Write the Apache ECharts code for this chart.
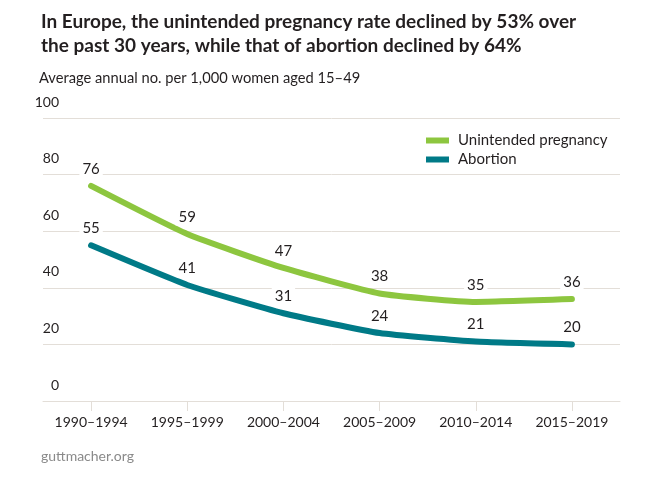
<!DOCTYPE html>
<html><head><meta charset="utf-8">
<script src="https://cdn.jsdelivr.net/npm/echarts@6/dist/echarts.min.js"></script>
<style>html,body{margin:0;padding:0;background:#fff}#c{width:671px;height:499px}</style>
</head><body><div id="c"></div>
<script>
const categories = ['1990–1994','1995–1999','2000–2004','2005–2009','2010–2014','2015–2019'];
const unintended = [76, 59, 47, 38, 35, 36];
const abortion = [55, 41, 31, 24, 21, 20];
const yTicks = [0, 20, 40, 60, 80, 100];

const FONT = 'Lato';
const TXT = '#231f20';
const GRID = '#e3ded8';
const chart = echarts.init(document.getElementById('c'));
const lbl = { show: true, position: 'top', distance: 8, fontFamily: FONT, fontSize: 15, color: TXT,
  backgroundColor: '#fff', padding: [1,3] };
chart.setOption({
  backgroundColor: '#fff',
  animation: false,
  textStyle: { fontFamily: FONT, color: TXT },
  title: [
    { text: 'In Europe, the unintended pregnancy rate declined by 53% over\nthe past 30 years, while that of abortion declined by 64%',
      left: 36, top: 5,
      textStyle: { fontFamily: FONT, fontWeight: 'bold', fontSize: 19, lineHeight: 24, color: TXT } },
    { text: 'Average annual no. per 1,000 women aged 15–49', left: 34, top: 66,
      textStyle: { fontFamily: FONT, fontWeight: 'normal', fontSize: 14.7, color: TXT } },
    { text: 'guttmacher.org', left: 36, top: 444,
      textStyle: { fontFamily: FONT, fontWeight: 'normal', fontSize: 14, color: '#8a8a8a' } }
  ],
  legend: {
    left: 421, top: 128, orient: 'vertical', itemGap: 4,
    itemWidth: 23, itemHeight: 6, icon: 'rect',
    textStyle: { fontFamily: FONT, fontSize: 15, color: TXT, padding: [0,0,0,4] },
    data: ['Unintended pregnancy', 'Abortion']
  },
  grid: { left: 43, right: 51, top: 118, bottom: 98, containLabel: false },
  xAxis: {
    type: 'category', data: categories, boundaryGap: true,
    axisLine: { lineStyle: { color: GRID, width: 1 } },
    axisTick: { show: true, alignWithLabel: true, length: 10, lineStyle: { color: GRID } },
    axisLabel: { fontFamily: FONT, fontSize: 14, color: TXT, margin: 14 },
    splitLine: { show: false }
  },
  yAxis: {
    type: 'value', min: 0, max: 100, interval: 20,
    axisLine: { show: false }, axisTick: { show: false },
    splitLine: { lineStyle: { color: GRID, width: 1 } },
    axisLabel: { fontFamily: FONT, fontSize: 14, color: TXT, margin: -16,
      verticalAlign: 'bottom', padding: [0,0,9,0],
      formatter: v => yTicks.includes(v) ? String(v) : '' }
  },
  series: [
    { name: 'Unintended pregnancy', type: 'line', data: unintended, smooth: 0.15,
      symbol: 'circle', symbolSize: 1, showSymbol: true, color: '#8dc63f',
      itemStyle: { color: '#8dc63f' },
      lineStyle: { width: 6, color: '#8dc63f', cap: 'round' }, label: lbl },
    { name: 'Abortion', type: 'line', data: abortion, smooth: 0.15,
      symbol: 'circle', symbolSize: 1, showSymbol: true, color: '#007a87',
      itemStyle: { color: '#007a87' },
      lineStyle: { width: 6, color: '#007a87', cap: 'round' }, label: lbl }
  ]
});
</script></body></html>
